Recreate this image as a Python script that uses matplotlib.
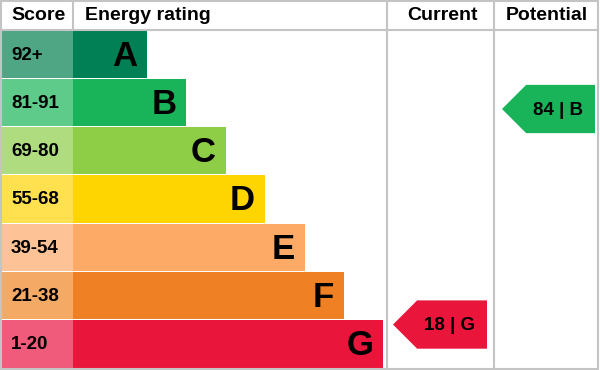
import numpy as np
from matplotlib import pyplot as plt
from matplotlib.patches import Rectangle, Polygon

plt.rcParams.update({'font.family': ['Liberation Sans', 'DejaVu Sans'], 'font.weight': 'bold'})

BANDS = ["A", "B", "C", "D", "E", "F", "G"]
SCORE_LABELS = ["92+", "81-91", "69-80", "55-68", "39-54", "21-38", "1-20"]
SCORE_LOW = [92, 81, 69, 55, 39, 21, 1]
SCORE_HIGH = [100, 91, 80, 68, 54, 38, 20]
BAR_COLORS = ["#008054", "#19b459", "#8dce46", "#ffd500", "#fcaa65", "#ef8023", "#e9153b"]
CELL_COLORS = ["#4fa684", "#5ecb8b", "#b0dc80", "#ffe04f", "#fdc396", "#f4a964", "#f05b7b"]

CURRENT_SCORE, CURRENT_BAND = 18, "G"
POTENTIAL_SCORE, POTENTIAL_BAND = 84, "B"

HEADERS = ["Score", "Energy rating", "Current", "Potential"]

# layout (pixels)
W, H = 600, 370
HEAD = 30
ROW_H = (368 - HEAD) / len(BANDS)
SCORE_W = 73
BAR0, BAR_STEP = 74, 39.4
COL_CUR, COL_POT, COL_END = 387, 494, 598
GRID = "#c4c4c4"


def band_y(score, band):
    i = BANDS.index(band)
    top = HEAD + i * ROW_H
    frac = (SCORE_HIGH[i] - score) / (SCORE_HIGH[i] - SCORE_LOW[i] + 1)
    return top + frac * ROW_H


def arrow(ax, x0, x1, yc, color, text):
    h = ROW_H
    pts = [(x0, yc), (x0 + h / 2, yc - h / 2), (x1, yc - h / 2),
           (x1, yc + h / 2), (x0 + h / 2, yc + h / 2)]
    ax.add_patch(Polygon(pts, closed=True, facecolor=color, edgecolor="none"))
    ax.text(x1 - 12, yc + 1, text, ha="right", va="center", fontsize=13.5,
            fontweight="bold", color="black")


fig = plt.figure(figsize=(6, 3.7), dpi=100)
ax = fig.add_axes([0, 0, 1, 1])
ax.set_xlim(0, W)
ax.set_ylim(H, 0)
ax.axis("off")

for i, band in enumerate(BANDS):
    top = HEAD + i * ROW_H + 0.5
    hgt = ROW_H - 1
    ax.add_patch(Rectangle((0, top), SCORE_W, hgt, facecolor=CELL_COLORS[i], edgecolor="none"))
    end = SCORE_W + BAR0 + BAR_STEP * i
    ax.add_patch(Rectangle((SCORE_W, top), end - SCORE_W, hgt, facecolor=BAR_COLORS[i], edgecolor="none"))
    yc = top + hgt / 2
    ax.text(11, yc + 1, SCORE_LABELS[i], ha="left", va="center", fontsize=13.5, fontweight="bold")
    ax.text(end - 10, yc + 2, band, ha="right", va="center", fontsize=25, fontweight="bold")

# grid lines
ax.plot([0, COL_END], [HEAD, HEAD], color=GRID, lw=1.5)
ax.plot([SCORE_W, SCORE_W], [0, HEAD], color=GRID, lw=1.5)
for x in [COL_CUR, COL_POT]:
    ax.plot([x, x], [0, 369], color=GRID, lw=1.5)
ax.add_patch(Rectangle((0.5, 0.5), COL_END - 0.5, 368.5, facecolor="none", edgecolor=GRID, lw=1.5))

# headers
ax.text(11, HEAD / 2 + 1, HEADERS[0], ha="left", va="center", fontsize=14, fontweight="bold")
ax.text(85, HEAD / 2 + 1, HEADERS[1], ha="left", va="center", fontsize=14, fontweight="bold")
ax.text((COL_CUR + COL_POT) / 2 + 2, HEAD / 2 + 1, HEADERS[2], ha="center", va="center", fontsize=14, fontweight="bold")
ax.text((COL_POT + COL_END) / 2 + 1, HEAD / 2 + 1, HEADERS[3], ha="center", va="center", fontsize=14, fontweight="bold")

arrow(ax, COL_CUR + 6, COL_POT - 7, band_y(CURRENT_SCORE, CURRENT_BAND),
      BAR_COLORS[BANDS.index(CURRENT_BAND)], f"{CURRENT_SCORE} | {CURRENT_BAND}")
arrow(ax, COL_POT + 8, COL_END - 3, band_y(POTENTIAL_SCORE, POTENTIAL_BAND),
      BAR_COLORS[BANDS.index(POTENTIAL_BAND)], f"{POTENTIAL_SCORE} | {POTENTIAL_BAND}")

fig.savefig("out.png", dpi=100)
